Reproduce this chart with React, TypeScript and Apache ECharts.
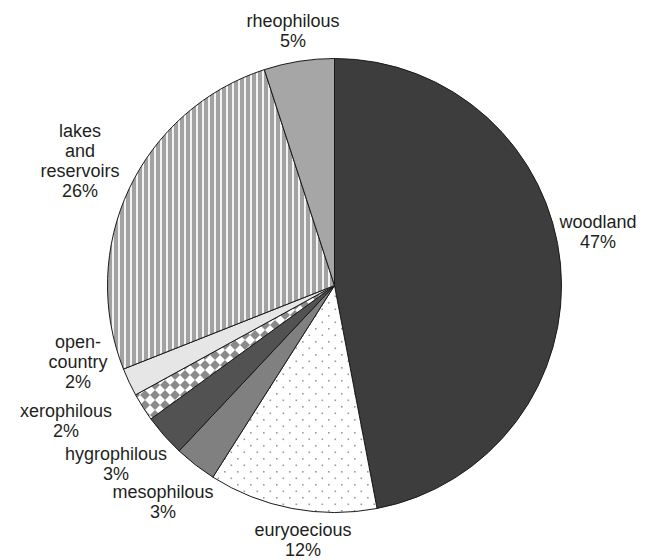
import React, { useEffect, useRef } from "react";
import * as echarts from "echarts";

const CATEGORIES = [
  "woodland",
  "euryoecious",
  "mesophilous",
  "hygrophilous",
  "xerophilous",
  "open-\ncountry",
  "lakes\nand\nreservoirs",
  "rheophilous",
];
const VALUES = [47, 12, 3, 3, 2, 2, 26, 5];

// label centres (px) in the 649x560 frame
const LABEL_POS: [number, number][] = [
  [598, 232],
  [303, 540],
  [163, 502],
  [116, 464],
  [66, 421],
  [78, 362],
  [80, 161],
  [293, 31],
];

function makeTile(w: number, h: number, draw: (ctx: CanvasRenderingContext2D) => void) {
  const c = document.createElement("canvas");
  c.width = w;
  c.height = h;
  const ctx = c.getContext("2d")!;
  draw(ctx);
  return c;
}

export default function App() {
  const ref = useRef<HTMLDivElement>(null);
  useEffect(() => {
    document.body.style.margin = "0";
    const chart = echarts.init(ref.current!, null, { renderer: "svg" });

    const stripes = makeTile(6, 6, (ctx) => {
      ctx.fillStyle = "#a2a2a2";
      ctx.fillRect(0, 0, 6, 6);
      ctx.fillStyle = "#f2f2f2";
      ctx.fillRect(4, 0, 2, 6);
    });
    const checker = makeTile(10, 10, (ctx) => {
      ctx.fillStyle = "#ffffff";
      ctx.fillRect(0, 0, 10, 10);
      ctx.fillStyle = "#8a8a8a";
      ctx.beginPath();
      ctx.moveTo(5, 0);
      ctx.lineTo(10, 5);
      ctx.lineTo(5, 10);
      ctx.lineTo(0, 5);
      ctx.closePath();
      ctx.fill();
    });
    const dots = makeTile(13, 13, (ctx) => {
      ctx.fillStyle = "#ffffff";
      ctx.fillRect(0, 0, 13, 13);
      ctx.fillStyle = "#9a9a9a";
      ctx.fillRect(3, 3, 1.6, 1.6);
      ctx.fillRect(9.5, 9.5, 1.6, 1.6);
    });
    const pat = (c: HTMLCanvasElement) => ({
      image: c,
      repeat: "repeat",
      imageWidth: c.width,
      imageHeight: c.height,
    });

    const FILLS: any[] = [
      "#3d3d3d",
      pat(dots),
      "#808080",
      "#525252",
      pat(checker),
      "#e6e6e6",
      pat(stripes),
      "#a6a6a6",
    ];

    chart.setOption({
      animation: false,
      series: [
        {
          type: "pie",
          center: [334.5, 285.5],
          radius: 227,
          startAngle: 90,
          clockwise: true,
          avoidLabelOverlap: false,
          itemStyle: { borderColor: "#1a1a1a", borderWidth: 1 },
          label: {
            show: true,
            position: "outside",
            formatter: (p: any) => `${p.name}\n${p.value}%`,
            fontFamily: "Liberation Sans, Arial, sans-serif",
            fontSize: 18,
            lineHeight: 20,
            color: "#231f20",
            align: "center",
          },
          labelLine: { show: false },
          labelLayout: (params: any) => ({
            x: LABEL_POS[params.dataIndex][0],
            y: LABEL_POS[params.dataIndex][1],
            align: "center",
            verticalAlign: "middle",
          }),
          emphasis: { disabled: true },
          data: CATEGORIES.map((name, i) => ({
            name,
            value: VALUES[i],
            itemStyle: { color: FILLS[i] },
          })),
        },
      ],
    });
    return () => chart.dispose();
  }, []);
  return <div ref={ref} style={{ width: 649, height: 560 }} />;
}
